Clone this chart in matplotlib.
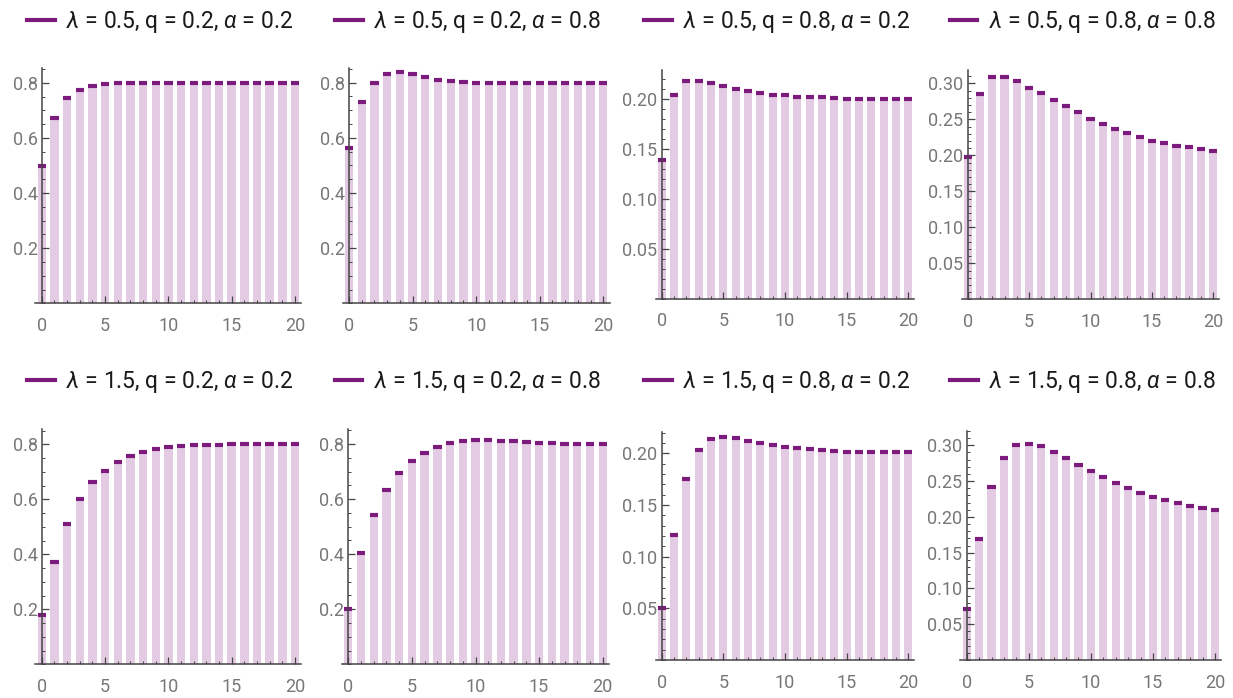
import numpy as np
import matplotlib.pyplot as plt
from matplotlib.lines import Line2D
from matplotlib.ticker import MultipleLocator

plt.rcParams['font.family'] = ['Roboto', 'DejaVu Sans']
plt.rcParams['mathtext.fontset'] = 'custom'
plt.rcParams['mathtext.rm'] = 'Roboto'
plt.rcParams['mathtext.it'] = 'Roboto:italic'

n = np.arange(21)

labels = [
    r'$\lambda$ = 0.5, q = 0.2, $\alpha$ = 0.2',
    r'$\lambda$ = 0.5, q = 0.2, $\alpha$ = 0.8',
    r'$\lambda$ = 0.5, q = 0.8, $\alpha$ = 0.2',
    r'$\lambda$ = 0.5, q = 0.8, $\alpha$ = 0.8',
    r'$\lambda$ = 1.5, q = 0.2, $\alpha$ = 0.2',
    r'$\lambda$ = 1.5, q = 0.2, $\alpha$ = 0.8',
    r'$\lambda$ = 1.5, q = 0.8, $\alpha$ = 0.2',
    r'$\lambda$ = 1.5, q = 0.8, $\alpha$ = 0.8',
]

v1 = [0.500, 0.673, 0.745, 0.775, 0.790, 0.797, 0.799, 0.800, 0.800, 0.800, 0.800,
      0.800, 0.800, 0.800, 0.800, 0.800, 0.800, 0.800, 0.800, 0.800, 0.800]
v2 = [0.562, 0.731, 0.800, 0.831, 0.839, 0.831, 0.822, 0.810, 0.806, 0.802, 0.800,
      0.800, 0.800, 0.800, 0.800, 0.800, 0.800, 0.800, 0.800, 0.800, 0.800]
v3 = [0.139, 0.204, 0.218, 0.218, 0.216, 0.213, 0.210, 0.208, 0.206, 0.204, 0.204,
      0.202, 0.202, 0.2017, 0.201, 0.2003, 0.200, 0.200, 0.200, 0.200, 0.200]
v4 = [0.198, 0.285, 0.309, 0.309, 0.303, 0.294, 0.286, 0.277, 0.268, 0.260, 0.251,
      0.2435, 0.2366, 0.2305, 0.225, 0.2204, 0.2167, 0.2134, 0.211, 0.2083, 0.206]
v5 = [0.179, 0.372, 0.511, 0.601, 0.662, 0.705, 0.736, 0.758, 0.773, 0.784, 0.792,
      0.795, 0.797, 0.798, 0.799, 0.800, 0.800, 0.800, 0.800, 0.800, 0.800]
v6 = [0.200, 0.405, 0.544, 0.634, 0.695, 0.737, 0.768, 0.790, 0.804, 0.812, 0.815,
      0.815, 0.813, 0.810, 0.807, 0.805, 0.803, 0.801, 0.800, 0.800, 0.800]
v7 = [0.050, 0.121, 0.175, 0.203, 0.214, 0.216, 0.2145, 0.212, 0.210, 0.208, 0.206,
      0.205, 0.204, 0.203, 0.2025, 0.2015, 0.201, 0.201, 0.201, 0.201, 0.201]
v8 = [0.071, 0.169, 0.242, 0.282, 0.300, 0.302, 0.299, 0.291, 0.282, 0.273, 0.264,
      0.256, 0.248, 0.241, 0.234, 0.228, 0.223, 0.219, 0.215, 0.212, 0.209]
series = [v1, v2, v3, v4, v5, v6, v7, v8]

ymax = [0.853, 0.852, 0.229, 0.3185, 0.856, 0.855, 0.221, 0.32]
ymajor = [0.2, 0.2, 0.05, 0.05, 0.2, 0.2, 0.05, 0.05]
yminor = [0.05, 0.05, 0.01, 0.01, 0.05, 0.05, 0.01, 0.01]

# pixel boxes: (x of n=0, x of n=20, y baseline, y top)
boxes = [
    (41.7, 295.0, 303.3, 68.3), (349.0, 603.3, 303.3, 68.3),
    (661.7, 908.3, 298.5, 70.0), (967.7, 1213.3, 299.3, 70.0),
    (41.7, 295.0, 664.3, 429.0), (348.3, 602.7, 664.3, 429.0),
    (661.7, 908.3, 660.0, 431.7), (966.7, 1215.0, 660.0, 431.0),
]
legend_y = [22, 22, 22, 22, 382, 382, 382, 382]

W, H = 1233, 698
bar_col = '#e4cbe4'
top_col = '#7d1a7d'
bw = 0.66
fig = plt.figure(figsize=(W / 100, H / 100), dpi=100)

for i in range(8):
    x0, x20, yb, yt = boxes[i]
    step = (x20 - x0) / 20
    left = x0 - step / 2
    right = x20 + step / 2
    ax = fig.add_axes([left / W, 1 - yb / H, (right - left) / W, (yb - yt) / H])
    vals = np.array(series[i])
    ax.bar(n, vals, width=bw, color=bar_col, edgecolor='none', zorder=1)
    ax.hlines(vals, n - bw / 2, n + bw / 2, colors=top_col, linewidth=3, zorder=2)
    ax.set_xlim(-0.5, 20.5)
    ax.set_ylim(0, ymax[i])
    for s in ['top', 'right']:
        ax.spines[s].set_visible(False)
    ax.spines['left'].set_position(('data', 0))
    for s in ['left', 'bottom']:
        ax.spines[s].set_color('#444444')
        ax.spines[s].set_linewidth(1.1)
    ax.set_xticks([0, 5, 10, 15, 20])
    ax.xaxis.set_minor_locator(MultipleLocator(1))
    ax.yaxis.set_minor_locator(MultipleLocator(yminor[i]))
    yt_vals = [t for t in np.arange(ymajor[i], ymax[i], ymajor[i])]
    ax.set_yticks(yt_vals)
    if ymajor[i] < 0.1:
        ax.set_yticklabels(['%.2f' % t for t in yt_vals])
    else:
        ax.set_yticklabels(['%.1f' % t for t in yt_vals])
    ax.tick_params(axis='both', which='major', direction='in', length=5, width=0.9,
                   color='#444444', labelcolor='#777777', labelsize=13, pad=3)
    ax.tick_params(axis='x', which='major', pad=10)
    ax.tick_params(axis='both', which='minor', direction='in', length=2.5, width=0.7,
                   color='#444444')
    ax.patch.set_alpha(0)
    h = Line2D([], [], color=top_col, linewidth=3)
    ly = 1 + (yt - legend_y[i]) / (yb - yt)
    ax.legend([h], [labels[i]], loc='center', bbox_to_anchor=(0.47, ly),
              frameon=False, fontsize=16.5, handlelength=1.2, handletextpad=0.5,
              borderaxespad=0, borderpad=0, labelcolor='#1a1a1a')

fig.savefig('out.png', dpi=100)
